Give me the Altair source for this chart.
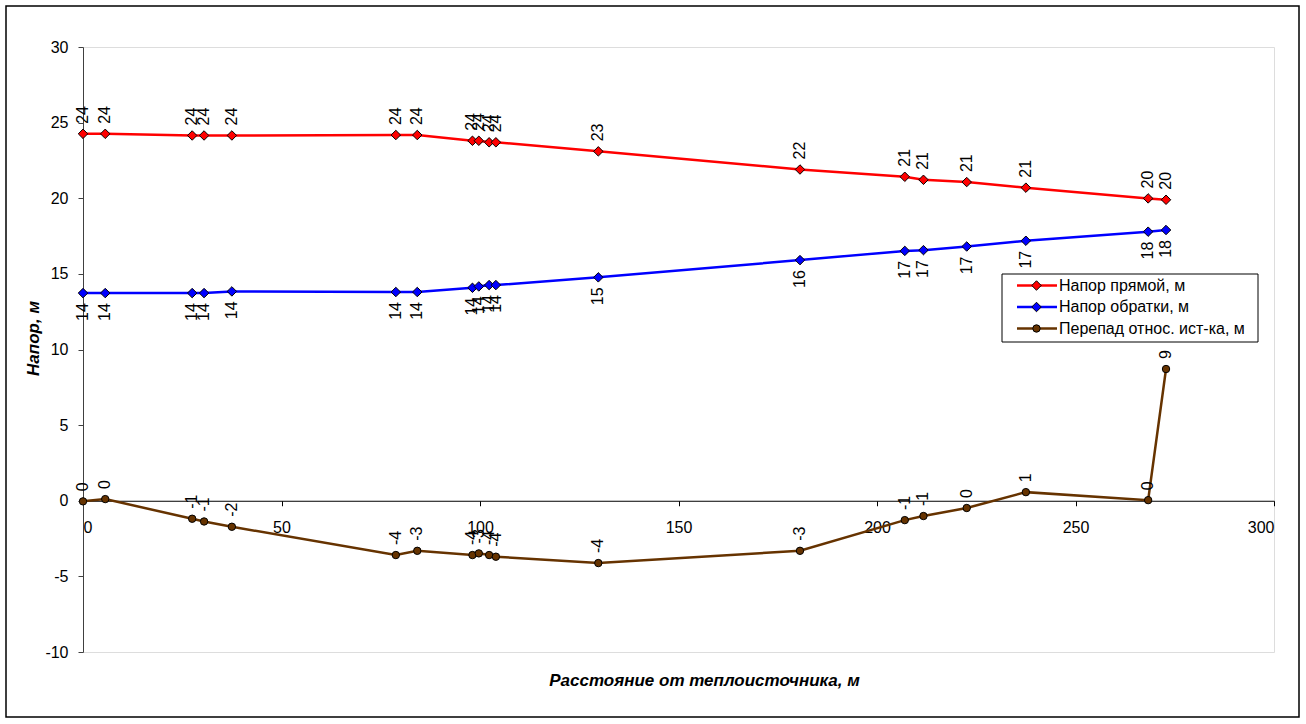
import altair as alt
import pandas as pd

# Distance from the heat source, m
dist = [0, 5.6, 27.5, 30.5, 37.5, 78.8, 84.2, 98.1, 99.7, 102.3, 104.0,
        129.8, 180.6, 207.0, 211.7, 222.6, 237.5, 268.3, 272.8]
# Supply-line head, m
supply = [24.26, 24.26, 24.15, 24.15, 24.15, 24.18, 24.18, 23.8, 23.8, 23.7, 23.7,
          23.1, 21.9, 21.42, 21.22, 21.07, 20.7, 19.99, 19.9]
# Return-line head, m
ret = [13.73, 13.73, 13.73, 13.73, 13.84, 13.8, 13.8, 14.08, 14.17, 14.26, 14.26,
       14.77, 15.91, 16.52, 16.57, 16.81, 17.19, 17.79, 17.9]
# Pressure difference relative to the source, m
drop = [-0.04, 0.11, -1.19, -1.37, -1.72, -3.59, -3.31, -3.59, -3.48, -3.59, -3.7,
        -4.12, -3.31, -1.28, -1.01, -0.48, 0.57, 0.04, 8.71]

series_names = ["Напор прямой, м", "Напор обратки, м", "Перепад относ. ист-ка, м"]
series_values = [supply, ret, drop]
series_colors = ["#FF0000", "#0000FF", "#663300"]
series_shapes = ["diamond", "diamond", "circle"]
series_sizes = [90, 90, 55]
label_above = [True, False, True]

x_ticks = [0, 50, 100, 150, 200, 250, 300]
y_ticks = [-10, -5, 0, 5, 10, 15, 20, 25, 30]

FONT = "Liberation Sans"
W, H = 1191, 605
Y_MIN, Y_MAX = -10, 30

xs = alt.Scale(domain=[0, 300], nice=False, zero=False)
ys = alt.Scale(domain=[Y_MIN, Y_MAX], nice=False, zero=False)

x_axis = alt.Axis(
    values=x_ticks, grid=False, offset=-H * (0 - Y_MIN) / (Y_MAX - Y_MIN),
    domainColor="black", domainWidth=1, tickColor="black", tickSize=5,
    labelFontSize=16, labelFont=FONT, labelColor="black", labelPadding=14,
    labelExpr="'' + datum.value",
    title="Расстояние от теплоисточника, м", titleFont=FONT, titleFontSize=17,
    titleFontWeight="bold", titleFontStyle="italic", titleColor="black",
    titleX=621, titleY=180, titleAlign="center", titleBaseline="middle",
)
y_axis = alt.Axis(
    values=y_ticks, grid=False,
    domainColor="#404040", domainWidth=1, tickColor="#404040", tickSize=5,
    labelFontSize=16, labelFont=FONT, labelColor="black", labelPadding=10,
    labelExpr="'' + datum.value",
    title="Напор, м", titleFont=FONT, titleFontSize=17,
    titleFontWeight="bold", titleFontStyle="italic", titleColor="black",
    titleX=-50, titleY=291, titleAngle=270, titleAlign="center", titleBaseline="middle",
)

layers = []
for name, vals, color, shape, size, above in zip(
        series_names, series_values, series_colors, series_shapes, series_sizes, label_above):
    df = pd.DataFrame({"x": dist, "v": vals})
    base = alt.Chart(df).encode(
        x=alt.X("x:Q", scale=xs, axis=x_axis),
        y=alt.Y("v:Q", scale=ys, axis=y_axis),
    )
    line = base.mark_line(color=color, strokeWidth=2.5)
    pts = base.mark_point(shape=shape, filled=True, fill=color, stroke="black",
                          strokeWidth=1, size=size, opacity=1)
    labels = base.transform_calculate(lab="'' + round(datum.v)").mark_text(
        angle=270, align="left" if above else "right", baseline="middle",
        dx=10 if above else -10, fontSize=16, font=FONT, color="black",
    ).encode(text="lab:N")
    layers += [line, pts, labels]

one = pd.DataFrame({"k": [0]})

# Outer frame of the chart
frame = alt.Chart(one).mark_rect(fill=None, stroke="black", strokeWidth=1.5).encode(
    x=alt.value(-77), x2=alt.value(1216), y=alt.value(-41), y2=alt.value(670))

# Legend box with one row per series
legend_layers = [
    alt.Chart(one).mark_rect(fill="white", stroke="black", strokeWidth=1).encode(
        x=alt.value(919), x2=alt.value(1175), y=alt.value(227), y2=alt.value(295))
]
for i, (name, color, shape, size) in enumerate(
        zip(series_names, series_colors, series_shapes, series_sizes)):
    ry = 238.5 + i * 21.5
    legend_layers.append(alt.Chart(one).mark_rule(color=color, strokeWidth=2.5).encode(
        x=alt.value(934), x2=alt.value(974), y=alt.value(ry)))
    legend_layers.append(alt.Chart(one).mark_point(
        shape=shape, filled=True, fill=color, stroke="black", strokeWidth=1,
        size=size, opacity=1).encode(x=alt.value(953.5), y=alt.value(ry)))
    legend_layers.append(alt.Chart(one).mark_text(
        align="left", baseline="middle", fontSize=16, font=FONT, color="black").encode(
        x=alt.value(976), y=alt.value(ry), text=alt.value(name)))

chart = alt.layer(frame, *layers, *legend_layers).properties(
    width=W, height=H,
    autosize=alt.AutoSizeParams(type="none"),
    padding={"left": 83, "top": 47, "right": 32, "bottom": 72},
).configure_view(stroke="#8c8c8c", strokeWidth=1.5).configure(background="white")

chart.save("out.html", embed_options={"renderer": "svg", "actions": False})
